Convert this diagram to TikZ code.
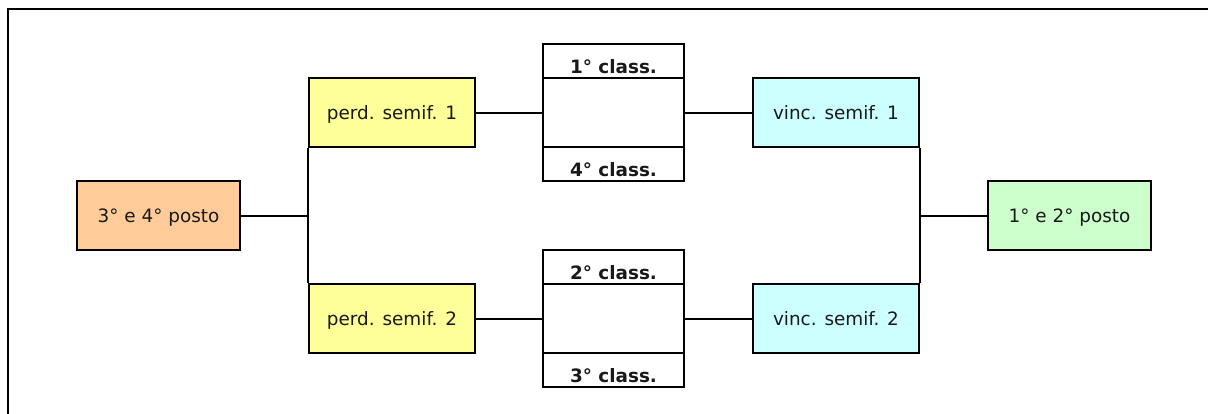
\documentclass[tikz,border=0pt]{standalone}
\usepackage{fontspec}
\setmainfont{DejaVu Sans}
\definecolor{orangefill}{HTML}{FFCC99}
\definecolor{yellowfill}{HTML}{FFFF99}
\definecolor{cyanfill}{HTML}{CCFFFF}
\definecolor{greenfill}{HTML}{CCFFCC}
\begin{document}
\begin{tikzpicture}[x=0.75pt,y=-0.75pt,
  every node/.style={font=\fontsize{13.8pt}{16pt}\selectfont},
  box/.style={draw,line width=1.5pt,rectangle,inner sep=0pt,minimum height=51.75pt,text depth=0pt,text=black!90},
  wbox/.style={box,minimum width=124.5pt},
  pbox/.style={box,minimum width=122.25pt},
  secbox/.style={draw,line width=1.5pt,rectangle,inner sep=0pt,minimum width=105.75pt},
  secsmall/.style={secbox,minimum height=25.5pt},
  secbig/.style={secbox,minimum height=51.75pt},
  lab/.style={anchor=base,inner sep=0pt,text=black!90,font=\bfseries\fontsize{13.8pt}{16pt}\selectfont},
  conn/.style={line width=1.5pt}]
\useasboundingbox (0,0) rectangle (1208,414);
\draw[line width=1.5pt] (1208,9) -- (8,9) -- (8,414);

\node[pbox,fill=orangefill] (e34) at (158.5,215.5) {3° e 4° posto};
\node[wbox,fill=yellowfill] (perd1) at (392,112.5) {perd. semif. 1};
\node[wbox,fill=yellowfill] (perd2) at (392,318.5) {perd. semif. 2};
\node[wbox,fill=cyanfill] (vinc1) at (836,112.5) {vinc. semif. 1};
\node[wbox,fill=cyanfill] (vinc2) at (836,318.5) {vinc. semif. 2};
\node[pbox,fill=greenfill] (e12) at (1069.5,215.5) {1° e 2° posto};

\node[secsmall] (top1) at (613.5,61) {};
\node[secbig] (mid1) at (613.5,112.5) {};
\node[secsmall] (bot1) at (613.5,164) {};
\node[secsmall] (top2) at (613.5,267) {};
\node[secbig] (mid2) at (613.5,318.5) {};
\node[secsmall] (bot2) at (613.5,370) {};

\node[lab] (l1) at (613.5,73.5) {1° class.};
\node[lab] (l4) at (613.5,176.5) {4° class.};
\node[lab] (l2) at (613.5,279.5) {2° class.};
\node[lab] (l3) at (613.5,382.5) {3° class.};

\draw[conn] (e34.east) -- (e34.east -| perd1.west);
\draw[conn] (perd1.south west) -- (perd2.north west);
\draw[conn] (perd1.east) -- (mid1.west);
\draw[conn] (perd2.east) -- (mid2.west);
\draw[conn] (mid1.east) -- (vinc1.west);
\draw[conn] (mid2.east) -- (vinc2.west);
\draw[conn] (vinc1.south east) -- (vinc2.north east);
\draw[conn] (e12.west -| vinc1.east) -- (e12.west);
\end{tikzpicture}
\end{document}
